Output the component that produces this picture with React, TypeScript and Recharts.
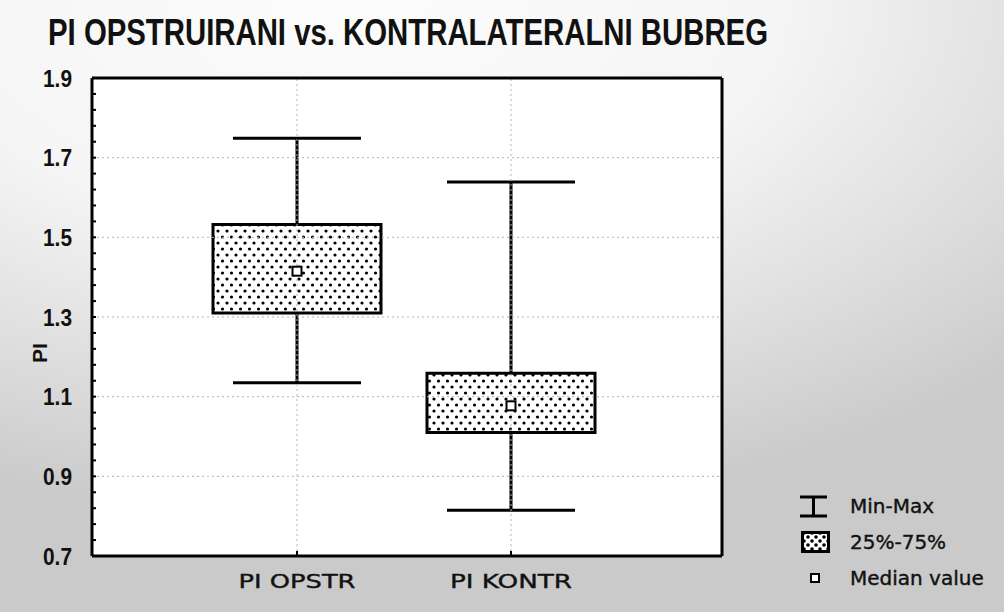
import { Bar, CartesianGrid, ComposedChart, Legend, Line, ReferenceLine, XAxis, YAxis } from 'recharts';

const categories = ['PI OPSTR', 'PI KONTR'];
const minValues = [1.135, 0.815];
const q1Values = [1.31, 1.01];
const medianValues = [1.415, 1.077];
const q3Values = [1.532, 1.159];
const maxValues = [1.749, 1.639];
const yTicks = [0.7, 0.9, 1.1, 1.3, 1.5, 1.7, 1.9];
const gridValues = [0.9, 1.1, 1.3, 1.5, 1.7];

// minor tick marks every 0.04 along both vertical axes
const minorTicks = Array.from({ length: 31 }, (_, i) => Math.round((0.7 + i * 0.04) * 100) / 100);

const data = categories.map((name, i) => ({
  name,
  range: [minValues[i], maxValues[i]],
  box: [q1Values[i], q3Values[i]],
  median: medianValues[i],
}));

const BOX_W = 168;
const CAP_HALF = 64;
const xPadding = { left: 98, right: 104 };

function WhiskerShape(props: any) {
  const { x, y, width, height } = props;
  const cx = x + width / 2;
  return (
    <g stroke="#000" strokeWidth={3}>
      <line x1={cx} y1={y} x2={cx} y2={y + height} />
      <line x1={cx - CAP_HALF} y1={y} x2={cx + CAP_HALF} y2={y} />
      <line x1={cx - CAP_HALF} y1={y + height} x2={cx + CAP_HALF} y2={y + height} />
    </g>
  );
}

function MedianDot(props: any) {
  const { cx, cy, index } = props;
  return <rect key={index} x={cx - 4.5} y={cy - 4.5} width={9} height={9} fill="#fff" stroke="#000" strokeWidth={2} />;
}

function YTick(props: any) {
  const { x, y, payload } = props;
  const v = payload.value;
  if (!yTicks.some((t) => Math.abs(t - v) < 1e-6)) return <g />;
  return (
    <text
      x={x}
      y={y + 8.5}
      textAnchor="end"
      fontFamily="'Liberation Sans', Arial, sans-serif"
      fontWeight="bold"
      fontSize={24}
      fill="#111"
      textLength={29}
      lengthAdjust="spacingAndGlyphs"
    >
      {v.toFixed(1)}
    </text>
  );
}

function XTick(props: any) {
  const { x, y, payload } = props;
  return (
    <text
      x={x}
      y={y + 16}
      textAnchor="middle"
      fontFamily="'DejaVu Sans', sans-serif"
      fontSize={20}
      fill="#111"
      stroke="#111"
      strokeWidth={0.4}
      textLength={payload.value === 'PI OPSTR' ? 117 : 122}
      lengthAdjust="spacingAndGlyphs"
    >
      {payload.value}
    </text>
  );
}

function YLabel() {
  return (
    <text
      x={47}
      y={353}
      transform="rotate(-90 47 353)"
      textAnchor="middle"
      fontFamily="'Liberation Sans', Arial, sans-serif"
      fontWeight="bold"
      fontSize={21}
      fill="#111"
    >
      PI
    </text>
  );
}

const legendText = {
  fontFamily: "'DejaVu Sans', sans-serif",
  fontSize: 20,
  color: '#111',
  WebkitTextStroke: '0.4px #111',
};

function LegendContent() {
  return (
    <div style={{ display: 'flex', flexDirection: 'column' }}>
      <div style={{ display: 'flex', alignItems: 'center', height: 36 }}>
        <svg width={50} height={30}>
          <g stroke="#000" strokeWidth={3}>
            <line x1={10} y1={6} x2={37} y2={6} />
            <line x1={10} y1={25} x2={37} y2={25} />
            <line x1={23.5} y1={6} x2={23.5} y2={25} />
          </g>
        </svg>
        <span style={{ ...legendText, marginLeft: 10 }}>Min-Max</span>
      </div>
      <div style={{ display: 'flex', alignItems: 'center', height: 36 }}>
        <svg width={50} height={30}>
          <rect x={12.5} y={5.5} width={26} height={19} fill="url(#dotsLegend)" stroke="#000" strokeWidth={3} />
        </svg>
        <span style={{ ...legendText, marginLeft: 10 }}>25%-75%</span>
      </div>
      <div style={{ display: 'flex', alignItems: 'center', height: 36 }}>
        <svg width={50} height={30}>
          <rect x={21} y={11} width={8} height={8} fill="#fff" stroke="#000" strokeWidth={2} />
        </svg>
        <span style={{ ...legendText, marginLeft: 10 }}>Median value</span>
      </div>
    </div>
  );
}

export default function App() {
  return (
    <div
      style={{
        position: 'absolute',
        left: 0,
        top: 0,
        width: 1004,
        height: 612,
        overflow: 'hidden',
        background:
          'radial-gradient(ellipse 95% 85% at 35% 0%, #fcfcfc 0%, #f5f5f5 45%, #dedede 75%, #cacaca 100%)',
      }}
    >
      <svg width={1004} height={70} style={{ position: 'absolute', left: 0, top: 0 }}>
        <text
          x={48}
          y={45}
          fontFamily="'Liberation Sans', Arial, sans-serif"
          fontWeight="bold"
          fontSize={36}
          fill="#111"
          textLength={720}
          lengthAdjust="spacingAndGlyphs"
        >
          PI OPSTRUIRANI vs. KONTRALATERALNI BUBREG
        </text>
      </svg>
      <ComposedChart
        width={1004}
        height={612}
        data={data}
        margin={{ top: 77, right: 281, bottom: 6, left: 32 }}
        barSize={BOX_W}
        barGap={-BOX_W}
        style={{ position: 'absolute', left: 0, top: 0 }}
      >
        <defs>
          <pattern id="dots" width={9} height={12} patternUnits="userSpaceOnUse">
            <rect width={9} height={12} fill="#fff" />
            <circle cx={2} cy={3} r={1.6} fill="#000" />
            <circle cx={6.5} cy={9} r={1.6} fill="#000" />
          </pattern>
          <pattern id="dotsLegend" width={8} height={8} patternUnits="userSpaceOnUse">
            <rect width={8} height={8} fill="#fff" />
            <circle cx={2} cy={2} r={1.8} fill="#000" />
            <circle cx={6} cy={6} r={1.8} fill="#000" />
          </pattern>
        </defs>
        <CartesianGrid horizontal={false} vertical={false} fill="#fff" />
        {gridValues.map((v) => (
          <ReferenceLine key={v} y={v} stroke="#b4b4b4" strokeDasharray="2 3" />
        ))}
        {categories.map((c) => (
          <ReferenceLine key={c} x={c} stroke="#b4b4b4" strokeDasharray="2 3" />
        ))}
        <XAxis
          dataKey="name"
          padding={xPadding}
          height={50}
          tickSize={-5}
          tickMargin={21}
          tick={<XTick />}
          axisLine={{ stroke: '#000', strokeWidth: 3 }}
          tickLine={{ stroke: '#000', strokeWidth: 2 }}
        />
        <XAxis
          xAxisId="top"
          orientation="top"
          dataKey="name"
          padding={xPadding}
          height={1}
          tickSize={-5}
          tick={false}
          axisLine={{ stroke: '#000', strokeWidth: 3 }}
          tickLine={{ stroke: '#000', strokeWidth: 2 }}
        />
        <YAxis
          domain={[0.7, 1.9]}
          ticks={minorTicks}
          interval={0}
          width={60}
          tickSize={-4}
          tickMargin={24}
          tick={<YTick />}
          axisLine={{ stroke: '#000', strokeWidth: 3 }}
          tickLine={{ stroke: '#000', strokeWidth: 2 }}
          label={<YLabel />}
        />
        <YAxis
          yAxisId="right"
          orientation="right"
          domain={[0.7, 1.9]}
          ticks={minorTicks}
          interval={0}
          width={1}
          tickSize={-4}
          tick={false}
          axisLine={{ stroke: '#000', strokeWidth: 3 }}
          tickLine={{ stroke: '#000', strokeWidth: 2 }}
        />
        <Bar dataKey="range" shape={<WhiskerShape />} isAnimationActive={false} />
        <Bar dataKey="box" fill="url(#dots)" stroke="#000" strokeWidth={3} isAnimationActive={false} />
        <Line
          dataKey="median"
          stroke="none"
          dot={(p: any) => <MedianDot key={p.index} {...p} />}
          activeDot={false}
          isAnimationActive={false}
        />
        <Legend
          layout="vertical"
          align="center"
          verticalAlign="middle"
          wrapperStyle={{ left: 790, top: 488, width: 214 }}
          content={<LegendContent />}
        />
      </ComposedChart>
    </div>
  );
}
